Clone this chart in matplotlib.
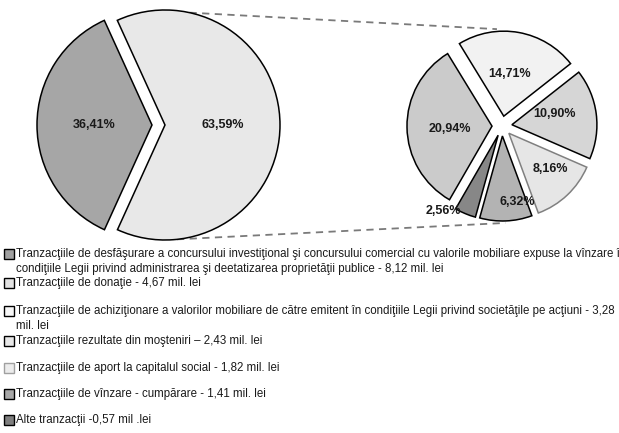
import numpy as np
import matplotlib
matplotlib.use("Agg")
import matplotlib.pyplot as plt

# ---------------- data ----------------
main_labels = ["36,41%", "63,59%"]
main_values = [36.41, 63.59]

sub_labels = ["20,94%", "14,71%", "10,90%", "8,16%", "6,32%", "2,56%"]
sub_values = [20.94, 14.71, 10.90, 8.16, 6.32, 2.56]

legend_texts = [
    "Tranzacţiile de desfăşurare a concursului investiţional şi concursului comercial cu valorile mobiliare expuse la vînzare în\n"
    "condiţiile Legii privind administrarea şi deetatizarea proprietăţii publice - 8,12 mil. lei",
    "Tranzacţiile de donaţie - 4,67 mil. lei",
    "Tranzacţiile de achiziţionare a valorilor mobiliare de către emitent în condiţiile Legii privind societăţile pe acţiuni - 3,28\n"
    "mil. lei",
    "Tranzacţiile rezultate din moşteniri – 2,43 mil. lei",
    "Tranzacţiile de aport la capitalul social - 1,82 mil. lei",
    "Tranzacţiile de vînzare - cumpărare - 1,41 mil. lei",
    "Alte tranzacţii -0,57 mil .lei",
]

# ---------------- style ----------------
W, H = 619, 433
main_colors = ["#a6a6a6", "#e8e8e8"]
sub_colors = ["#cbcbcb", "#f2f2f2", "#d6d6d6", "#e6e6e6", "#b3b3b3", "#878787"]
sub_edges = ["black", "black", "black", "#808080", "black", "black"]
legend_colors = ["#a0a0a0", "#e2e2e2", "#f7f7f7", "#e8e8e8", "#ececec", "#a8a8a8", "#7f7f7f"]
legend_edges = ["black", "black", "black", "black", "#a0a0a0", "black", "black"]
legend_y = [254, 283, 311, 341, 368, 394, 420]   # pixel rows (top-origin)

def Y(yp):
    return H - yp

fig = plt.figure(figsize=(W / 100, H / 100), dpi=100)
ax = fig.add_axes([0, 0, 1, 1])

label_font = dict(family=["Liberation Sans", "DejaVu Sans"], fontsize=9,
                  fontweight="bold", color="#1a1a1a", ha="center", va="center")

# left pie (explode given in pixels)
left_c = (152, Y(125))
left_r = 115
wl, _ = ax.pie(main_values, colors=main_colors, explode=[0, 13],
               startangle=114.5, counterclock=True, center=left_c, radius=left_r,
               wedgeprops=dict(edgecolor="black", linewidth=1.1), frame=True)
for w, lab in zip(wl, main_labels):
    mid = np.deg2rad((w.theta1 + w.theta2) / 2)
    cx, cy = w.center
    ax.text(cx + 0.5 * left_r * np.cos(mid), cy + 0.5 * left_r * np.sin(mid), lab, **label_font)

# right pie
right_c = (502, Y(126))
right_r = 85
ws, _ = ax.pie(sub_values, colors=sub_colors, explode=[10] * len(sub_values),
               startangle=240, counterclock=False, center=right_c, radius=right_r,
               wedgeprops=dict(linewidth=1.1), frame=True)
for w, ec in zip(ws, sub_edges):
    w.set_edgecolor(ec)
lab_frac = [0.5, 0.5, 0.52, 0.64, 0.8, 1.1]
lab_dang = [3, 2, 7, 6, 10, -13]
for w, lab, f, da in zip(ws, sub_labels, lab_frac, lab_dang):
    mid = np.deg2rad((w.theta1 + w.theta2) / 2 + da)
    cx, cy = w.center
    ax.text(cx + f * right_r * np.cos(mid), cy + f * right_r * np.sin(mid), lab, **label_font)

# connector dashed lines
big = wl[1]
bcx, bcy = big.center
p_top_l = (bcx + left_r * np.cos(np.deg2rad(77.7)), bcy + left_r * np.sin(np.deg2rad(77.7)))
p_bot_l = (bcx + left_r * np.cos(np.deg2rad(-84)), bcy + left_r * np.sin(np.deg2rad(-84)))
rr = right_r + 12
p_top_r = (right_c[0] + rr * np.cos(np.deg2rad(93)), right_c[1] + rr * np.sin(np.deg2rad(93)))
p_bot_r = (right_c[0] + rr * np.cos(np.deg2rad(-88)), right_c[1] + rr * np.sin(np.deg2rad(-88)))
for a, b in [(p_top_l, p_top_r), (p_bot_l, p_bot_r)]:
    ax.plot([a[0], b[0]], [a[1], b[1]], color="#7a7a7a", lw=1.3, ls=(0, (4, 3)), zorder=0)

# legend
leg_font = dict(family=["Liberation Sans Narrow", "Liberation Sans", "DejaVu Sans"],
                fontsize=8.3, color="#1a1a1a", va="center", ha="left", linespacing=1.3)
for txt, yp, fc, ec in zip(legend_texts, legend_y, legend_colors, legend_edges):
    ax.plot([9], [Y(yp)], marker="s", ms=6.6, mfc=fc, mec=ec, mew=1.0, ls="none")
    t = ax.text(16, Y(yp), txt, **leg_font)
    if "\n" in txt:
        t.set_va("top")
        t.set_y(Y(yp) + 6)

ax.set_xlim(0, W)
ax.set_ylim(0, H)
ax.set_aspect("auto")
ax.axis("off")

fig.savefig("out.png", dpi=100, facecolor="white")
